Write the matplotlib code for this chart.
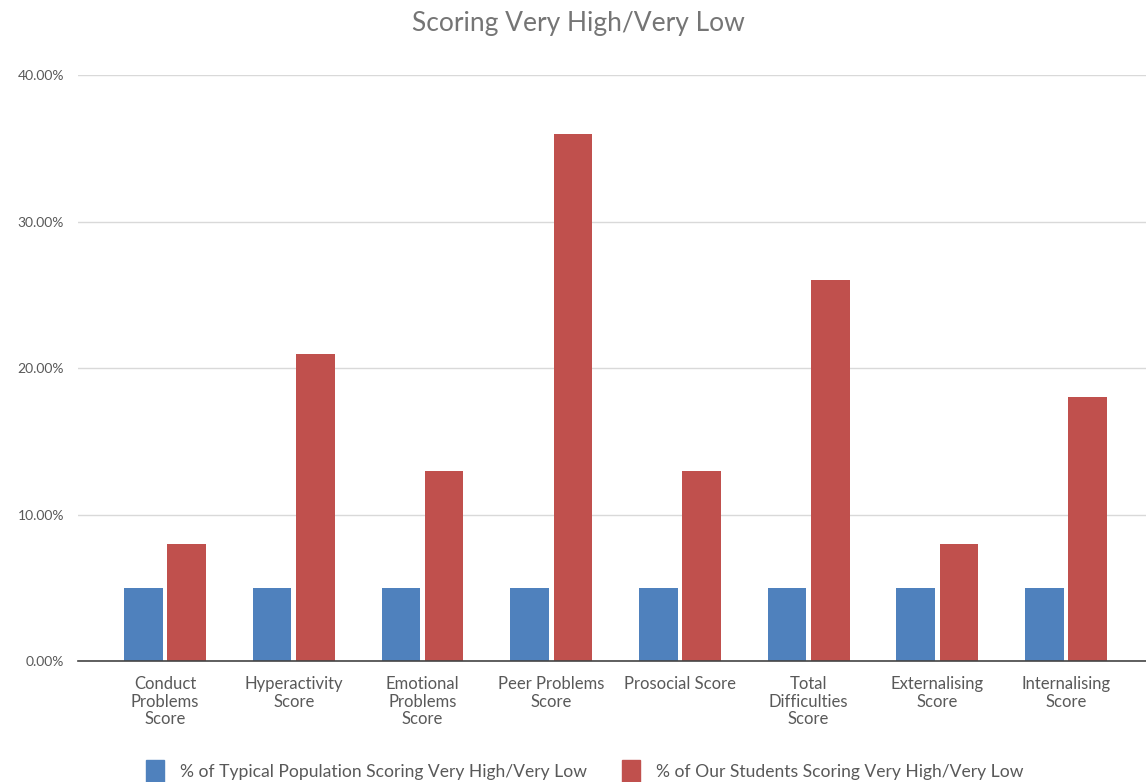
import numpy as np
import matplotlib.pyplot as plt
from matplotlib.patches import Patch

plt.rcParams['font.family'] = ['Lato', 'DejaVu Sans']

categories = ['Conduct\nProblems\nScore', 'Hyperactivity\nScore', 'Emotional\nProblems\nScore',
              'Peer Problems\nScore', 'Prosocial Score', 'Total\nDifficulties\nScore',
              'Externalising\nScore', 'Internalising\nScore']
typical = [5, 5, 5, 5, 5, 5, 5, 5]
students = [8, 21, 13, 36, 13, 26, 8, 18]
yticks = [0, 10, 20, 30, 40]
series_names = ['% of Typical Population Scoring Very High/Very Low',
                '% of Our Students Scoring Very High/Very Low']

blue = '#4F81BD'
red = '#C0504D'
txt = '#595959'

fig = plt.figure(figsize=(11.46, 7.82), dpi=100)
ax = fig.add_axes([0.068, 0.1547, 0.932, 0.749])

x = np.arange(len(categories))
w = 0.3
ax.bar(x - 0.168, typical, w, color=blue, zorder=3)
ax.bar(x + 0.168, students, w, color=red, zorder=3)

ax.set_xlim(-0.676, 7.62)
ax.set_ylim(0, 40)
ax.set_yticks(yticks)
ax.set_yticklabels(['%.2f%%' % v for v in yticks], fontsize=10)
ax.set_xticks(x)
ax.set_xticklabels(categories, linespacing=1.1, fontsize=12)
ax.tick_params(axis='both', length=0, labelcolor=txt)
ax.tick_params(axis='y', pad=10)
ax.tick_params(axis='x', pad=11)

ax.grid(axis='y', color='#d9d9d9', linewidth=1, zorder=0)
for s in ['top', 'right', 'left']:
    ax.spines[s].set_visible(False)
ax.spines['bottom'].set_color('#444444')
ax.spines['bottom'].set_linewidth(1.2)
ax.spines['bottom'].set_zorder(4)

fig.text(0.505, 0.970, 'Scoring Very High/Very Low', ha='center', va='center',
         fontsize=19, color='#757575')

handles = [Patch(color=blue), Patch(color=red)]
fig.legend(handles, series_names, loc='center', bbox_to_anchor=(0.51, 0.014),
           ncol=2, frameon=False, fontsize=12.6, labelcolor=txt,
           handlelength=1.05, handleheight=1.5, handletextpad=0.9, columnspacing=2.0)

fig.savefig('out.png', dpi=100)
